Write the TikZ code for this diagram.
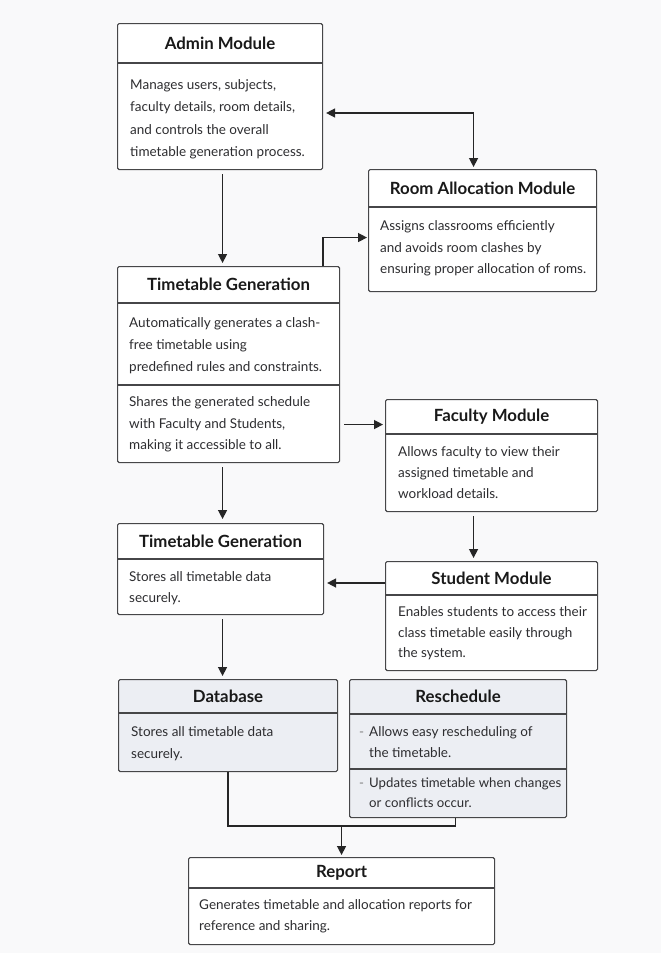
\documentclass[tikz,border=0pt]{standalone}
\usepackage{fontspec}
\setmainfont{Lato}
\usepackage{tikz}
\usepackage{xcolor}
\usetikzlibrary{arrows.meta}

\definecolor{pagebg}{RGB}{249,249,250}
\definecolor{boxline}{RGB}{70,70,72}
\definecolor{dbfill}{RGB}{236,238,243}
\definecolor{txt}{RGB}{45,45,48}

\begin{document}
\begin{tikzpicture}[x=1pt, y=-1pt]
            \tikzset{box/.style={draw=boxline, line width=1.1pt, rounded corners=1.5pt, fill=white, anchor=north west, inner sep=0pt},
                     filled/.style={box, fill=dbfill},
                     divider/.style={draw=boxline, line width=1.1pt},
                     ttl/.style={font=\bfseries\fontsize{16.8}{19}\selectfont, text=black!90, inner sep=0pt},
                     body/.style={font=\fontsize{13.5}{21.5}\selectfont, text=txt, align=left, anchor=north west, inner sep=0pt},
                     arr/.style={draw=black!85, line width=1.4pt, -{Triangle[length=9pt,width=9pt]}},
                     link/.style={draw=black!85, line width=1.4pt}}
            \fill [pagebg] (0,0) rectangle (661,953);
            \useasboundingbox (0,0) rectangle (661,953);
            % boxes
            \node [box, minimum width=205, minimum height=146] (admin) at (117,23) {};
            \draw [divider] (admin.west |- 0,63) -- (admin.east |- 0,63);
            \node [ttl] (admint) at (admin.north |- 0,43) {Admin Module};
            \node [body, font=\fontsize{13.5}{22.6}\selectfont] (adminb) at (130,79) {Manages users, subjects,\\faculty details, room details,\\and controls the overall\\timetable generation process.};
            \node [box, minimum width=228, minimum height=122] (room) at (368,169) {};
            \draw [divider] (room.west |- 0,207) -- (room.east |- 0,207);
            \node [ttl] (roomt) at (room.north |- 0,188) {Room Allocation Module};
            \node [body] (roomb) at (380,220.5) {Assigns classrooms efficiently\\and avoids room clashes by\\ensuring proper allocation of roms.};
            \node [box, minimum width=222, minimum height=196] (gen) at (117,266) {};
            \draw [divider] (gen.west |- 0,303) -- (gen.east |- 0,303);
            \draw [divider] (gen.west |- 0,385) -- (gen.east |- 0,385);
            \node [ttl] (gent) at (gen.north |- 0,284.5) {Timetable Generation};
            \node [body, font=\fontsize{13.5}{22.2}\selectfont] (genb) at (129,317) {Automatically generates a clash-\\free timetable using\\predefined rules and constraints.};
            \node [body] (genc) at (129,396.5) {Shares the generated schedule\\with Faculty and Students,\\making it accessible to all.};
            \node [box, minimum width=212, minimum height=112] (faculty) at (385,399) {};
            \draw [divider] (faculty.west |- 0,434) -- (faculty.east |- 0,434);
            \node [ttl] (facultyt) at (faculty.north |- 0,416.5) {Faculty Module};
            \node [body, font=\fontsize{13.5}{20.8}\selectfont] (facultyb) at (398,446.5) {Allows faculty to view their\\assigned timetable and\\workload details.};
            \node [box, minimum width=212, minimum height=109] (student) at (385,561) {};
            \draw [divider] (student.west |- 0,595) -- (student.east |- 0,595);
            \node [ttl] (studentt) at (student.north |- 0,578) {Student Module};
            \node [body, font=\fontsize{13.5}{20.5}\selectfont] (studentb) at (398,606.5) {Enables students to access their\\class timetable easily through\\the system.};
            \node [box, minimum width=206, minimum height=91] (store) at (117,523) {};
            \draw [divider] (store.west |- 0,559) -- (store.east |- 0,559);
            \node [ttl] (storet) at (store.north |- 0,541) {Timetable Generation};
            \node [body] (storeb) at (129,571) {Stores all timetable data\\securely.};
            \node [filled, minimum width=219, minimum height=92] (db) at (118,679) {};
            \draw [divider] (db.west |- 0,713) -- (db.east |- 0,713);
            \node [ttl] (dbt) at (db.north |- 0,696) {Database};
            \node [body] (dbb) at (131,726.5) {Stores all timetable data\\securely.};
            \node [filled, minimum width=217, minimum height=138] (resched) at (349,679) {};
            \draw [divider] (resched.west |- 0,714) -- (resched.east |- 0,714);
            \draw [divider] (resched.west |- 0,769) -- (resched.east |- 0,769);
            \node [ttl] (reschedt) at (resched.north |- 0,696.5) {Reschedule};
            \node [body, font=\fontsize{13.5}{20.5}\selectfont] (reschedb) at (359,726.5) {\makebox[10pt][l]{\textcolor{gray}{-}}Allows easy rescheduling of\\\hspace*{10pt}the timetable.};
            \node [body, font=\fontsize{13.2}{19.5}\selectfont] (reschedc) at (359,778) {\makebox[10pt][l]{\textcolor{gray}{-}}Updates timetable when changes\\\hspace*{10pt}or conflicts occur.};
            \node [box, minimum width=306, minimum height=87] (report) at (188,857) {};
            \draw [divider] (report.west |- 0,888) -- (report.east |- 0,888);
            \node [ttl] (reportt) at (report.north |- 0,872.5) {Report};
            \node [body, font=\fontsize{13.5}{21}\selectfont] (reportb) at (199,899) {Generates timetable and allocation reports for\\reference and sharing.};
            % connectors
            \coordinate (adminout) at ([yshift=-90pt]admin.north east);
            \draw [link, {Triangle[length=9pt,width=9pt]}-{Triangle[length=9pt,width=9pt]}, shorten <=3pt, shorten >=2pt] (adminout) -| ([xshift=-9pt]room.north);
            \draw [arr, shorten <=4pt, shorten >=3pt] ([xshift=2.5pt]admin.south) -- ([xshift=2.5pt]admin.south |- gen.north);
            \draw [arr, shorten >=1pt] ([xshift=-17pt]gen.north east) |- ([yshift=-7pt]room.west);
            \coordinate (facin) at ([yshift=31pt]faculty.west);
            \draw [arr, shorten <=4pt, shorten >=2pt] (gen.east |- facin) -- (facin);
            \draw [arr, shorten <=4pt, shorten >=3pt] ([xshift=-18pt]faculty.south) -- ([xshift=-18pt]faculty.south |- student.north);
            \coordinate (stuout) at ([yshift=-22pt]student.north west);
            \draw [arr, shorten >=3pt] (stuout) -- (store.east |- stuout);
            \draw [arr, shorten <=4pt, shorten >=4pt] ([xshift=2pt]store.north |- gen.south) -- ([xshift=2pt]store.north);
            \draw [arr, shorten <=4pt, shorten >=3pt] ([xshift=2pt]store.south) -- ([xshift=2pt]store.south |- db.north);
            \coordinate (join) at (report.north |- 0,826);
            \draw [link] (db.south) |- (join) -| ([xshift=-2.5pt]resched.south);
            \draw [arr, shorten >=2pt] (join) -- (report.north);
        \end{tikzpicture}
\end{document}
